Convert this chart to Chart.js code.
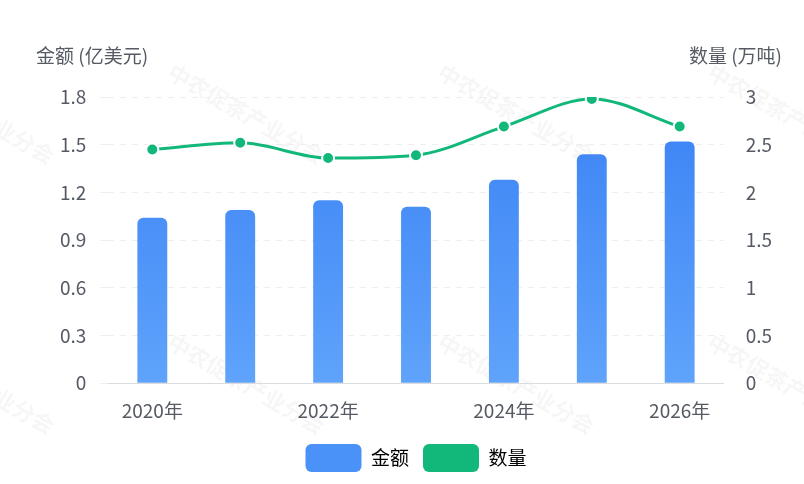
<!DOCTYPE html>
<html>
<head>
<meta charset="utf-8">
<script src="https://cdn.jsdelivr.net/npm/chart.js@4"></script>
<style>
  html, body { margin: 0; padding: 0; background: #fff; }
  #wrap { width: 804px; height: 484px; position: relative; }
</style>
</head>
<body>
<div id="wrap"><canvas id="chart"></canvas></div>
<script>
const years = ["2020年", "2021年", "2022年", "2023年", "2024年", "2025年", "2026年"];
const amount = [1.04, 1.09, 1.15, 1.11, 1.28, 1.44, 1.52];
const volume = [2.45, 2.52, 2.36, 2.39, 2.69, 2.98, 2.69];

const FONT = "'PingFang SC', 'Noto Sans CJK SC', sans-serif";

const watermark = {
  id: "watermark",
  beforeDraw(c) {
    const ctx = c.ctx;
    ctx.save();
    ctx.font = "bold 22px " + FONT;
    ctx.fillStyle = "rgba(0,0,0,0.035)";
    for (let y = -200; y < 700; y += 270) {
      for (let x = -100; x < 900; x += 270) {
        ctx.save();
        ctx.translate(x, y);
        ctx.rotate(Math.PI / 6);
        ctx.fillText("中农促茶产业分会", 0, 0);
        ctx.restore();
      }
    }
    ctx.restore();
  },
};

const axisTitles = {
  id: "axisTitles",
  afterDraw(c) {
    const ctx = c.ctx;
    ctx.save();
    ctx.font = "19px " + FONT;
    ctx.fillStyle = "#555a63";
    ctx.textBaseline = "middle";
    ctx.textAlign = "left";
    ctx.fillText("金额 (亿美元)", 36, 56);
    ctx.textAlign = "right";
    ctx.fillText("数量 (万吨)", 782, 56);
    ctx.restore();
  },
};

function barGradient(ctx) {
  const area = ctx.chart.chartArea;
  if (!area) return "#3b82f6";
  const g = ctx.chart.ctx.createLinearGradient(0, area.top, 0, area.bottom);
  g.addColorStop(0, "#3a82f5");
  g.addColorStop(1, "#5fa3fb");
  return g;
}

new Chart(document.getElementById("chart"), {
  data: {
    labels: years,
    datasets: [
      {
        type: "line",
        label: "数量",
        data: volume,
        yAxisID: "y1",
        borderColor: "#12b87a",
        backgroundColor: "#12b87a",
        borderWidth: 3,
        pointRadius: 6,
        pointBorderColor: "#fff",
        pointBorderWidth: 2,
        tension: 0.4,
        cubicInterpolationMode: "monotone",
        order: 0,
      },
      {
        type: "bar",
        label: "金额",
        data: amount,
        yAxisID: "y",
        backgroundColor: barGradient,
        borderRadius: { topLeft: 6, topRight: 6 },
        borderSkipped: "bottom",
        barPercentage: 0.34,
        categoryPercentage: 1,
        order: 1,
      },
    ],
  },
  options: {
    responsive: true,
    maintainAspectRatio: false,
    animation: false,
    layout: { padding: { top: 97, left: 46, right: 18, bottom: 2 } },
    plugins: {
      legend: {
        position: "bottom",
        reverse: true,
        labels: {
          font: { family: FONT, size: 19 },
          color: "#333",
          boxWidth: 56,
          boxHeight: 28,
          useBorderRadius: true,
          borderRadius: 6,
          padding: 14,
          generateLabels(c) {
            return c.data.datasets.map((d, i) => ({
              text: d.label,
              fillStyle: i === 1 ? "#4b92f8" : "#12b87a",
              strokeStyle: "transparent",
              lineWidth: 0,
              borderRadius: 6,
              datasetIndex: i,
            }));
          },
        },
      },
      tooltip: { enabled: false },
    },
    scales: {
      x: {
        grid: { display: false },
        border: { color: "#dcdcdc" },
        ticks: {
          font: { family: FONT, size: 19 }, color: "#555a63", autoSkip: false, maxRotation: 0, padding: 8,
          callback(v, i) { return i % 2 ? "" : years[i]; },
        },
      },
      y: {
        position: "left",
        min: 0,
        max: 1.8,
        ticks: { stepSize: 0.3, font: { family: FONT, size: 19 }, color: "#555a63", padding: 14 },
        grid: { color: "#eeeeee" },
        border: { display: false, dash: [6, 6] },
      },
      y1: {
        position: "right",
        min: 0,
        max: 3,
        ticks: {
          stepSize: 0.5, font: { family: FONT, size: 19 }, color: "#555a63", padding: 14,
          callback(v) { return String(v); },
        },
        grid: { display: false },
        border: { display: false },
      },
    },
  },
  plugins: [watermark, axisTitles],
});
</script>
</body>
</html>
